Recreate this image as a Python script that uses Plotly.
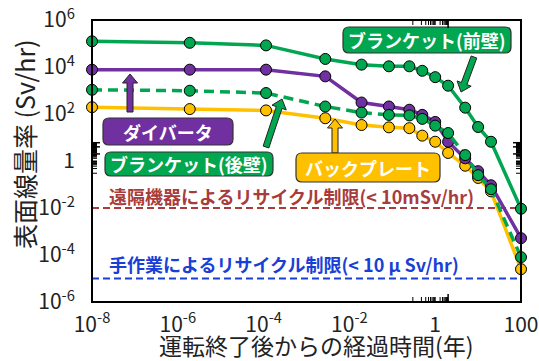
import plotly.graph_objects as go
import numpy as np

# ---- data (years after shutdown, surface dose rate Sv/hr) ----
times = [1e-8, 1.9e-6, 1.14e-4, 2.74e-3, 1.92e-2, 8.33e-2, 0.25, 0.5, 1, 2, 5, 10, 20, 100]
front_blanket = [1.24e5, 1.07e5, 8.3e4, 2.2e4, 1.26e4, 1.07e4, 1.07e4, 6.9e3, 3.7e3, 1.6e3, 186, 28, 6.6, 9.3e-3]
divertor = [7.7e3, 7.7e3, 7.7e3, 4.0e3, 308, 209, 152, 92, 46, 6.6, 1.3, 0.37, 0.093, 5.2e-4]
back_blanket = [1.07e3, 980, 780, 208, 115, 91, 87, 62, 32, 15.5, 1.78, 0.25, 0.063, 8.1e-5]
back_plate = [195, 162, 142, 66, 34, 27, 25, 12, 6.6, 2.2, 0.63, 0.19, 0.051, 2.5e-5]

remote_limit = 1e-2
hands_on_limit = 1e-5

x_tickvals = [1e-8, 1e-6, 1e-4, 1e-2, 1, 100]
x_ticktext = ["10<sup>-8</sup>", "10<sup>-6</sup>", "10<sup>-4</sup>", "10<sup>-2</sup>", "1", "100"]
y_tickvals = [1e-6, 1e-4, 1e-2, 1, 1e2, 1e4, 1e6]
y_ticktext = ["10<sup>-6</sup>", "10<sup>-4</sup>", "10<sup>-2</sup>", "1", "10<sup>2</sup>", "10<sup>4</sup>", "10<sup>6</sup>"]

x_title = "運転終了後からの経過時間(年)"
y_title = "表面線量率 (Sv/hr)"

GREEN = "#00a650"
PURPLE = "#7030a0"
YELLOW = "#ffc000"
RED = "#a83c3c"
BLUE = "#1a3fd6"
JP = "Noto Sans CJK JP"

fig = go.Figure()

# limit lines
fig.add_trace(go.Scatter(x=[1e-8, 100], y=[remote_limit]*2, mode="lines",
                         line=dict(color=RED, width=2, dash="7px,4px"), hoverinfo="skip"))
fig.add_trace(go.Scatter(x=[1e-8, 100], y=[hands_on_limit]*2, mode="lines",
                         line=dict(color=BLUE, width=2, dash="7px,4px"), hoverinfo="skip"))

def series(y, color, dash="solid"):
    fig.add_trace(go.Scatter(x=times, y=y, mode="lines+markers", cliponaxis=False,
                             line=dict(color=color, width=3.5, dash=dash),
                             marker=dict(size=11, color=color, line=dict(color="black", width=1))))

series(back_plate, YELLOW)
series(divertor, PURPLE)
series(back_blanket, GREEN, dash="10px,6px")
series(front_blanket, GREEN)

# ---- layout geometry helpers (pixel -> paper) ----
L, R, T, B = 92, 18, 20, 59
W, H = 539, 361
PW, PH = W - L - R, H - T - B

def pp(px, py):
    return (px - L) / PW, (H - B - py) / PH

def rounded_box(x0p, y0p, x1p, y1p, fill, r=6):
    ax0, ay0 = pp(x0p, y1p)
    ax1, ay1 = pp(x1p, y0p)
    rx, ry = r / PW, r / PH
    path = (f"M {ax0+rx},{ay0} L {ax1-rx},{ay0} Q {ax1},{ay0} {ax1},{ay0+ry} "
            f"L {ax1},{ay1-ry} Q {ax1},{ay1} {ax1-rx},{ay1} "
            f"L {ax0+rx},{ay1} Q {ax0},{ay1} {ax0},{ay1-ry} "
            f"L {ax0},{ay0+ry} Q {ax0},{ay0} {ax0+rx},{ay0} Z")
    fig.add_shape(type="path", path=path, xref="paper", yref="paper",
                  fillcolor=fill, line=dict(color="#333333", width=1.2), layer="above")

def box_label(text, x0p, y0p, x1p, y1p, fill):
    rounded_box(x0p, y0p, x1p, y1p, fill)
    cx, cy = pp((x0p + x1p) / 2, (y0p + y1p) / 2)
    fig.add_annotation(x=cx, y=cy, xref="paper", yref="paper", text=f"<b>{text}</b>",
                       showarrow=False, font=dict(family=JP, size=18, color="white"),
                       xanchor="center", yanchor="middle")

def block_arrow(head, tail, color, shaft=6, hw=15, hl=9):
    h = np.array(head, float)
    t = np.array(tail, float)
    d = (h - t) / np.linalg.norm(h - t)
    n = np.array([-d[1], d[0]])
    base = h - d * hl
    pts = [t + n * shaft / 2, base + n * shaft / 2, base + n * hw / 2, h,
           base - n * hw / 2, base - n * shaft / 2, t - n * shaft / 2]
    pts = [pp(*p) for p in pts]
    path = "M " + " L ".join(f"{x},{y}" for x, y in pts) + " Z"
    fig.add_shape(type="path", path=path, xref="paper", yref="paper",
                  fillcolor=color, line=dict(color="#222222", width=1), layer="above")

block_arrow((130, 74), (130, 112), PURPLE)
block_arrow((282, 99), (266, 147), GREEN)
block_arrow((335, 119), (335, 153), YELLOW)
block_arrow((461, 92), (474, 57), GREEN)

box_label("ブランケット(前壁)", 343, 27, 511, 53, GREEN)
box_label("ダイバータ", 103, 118, 233, 145, PURPLE)
box_label("ブランケット(後壁)", 105, 152, 273, 176, GREEN)
box_label("バックプレート", 296, 153, 440, 182, YELLOW)

# limit labels
x, y = pp(107, 196)
fig.add_annotation(x=x, y=y, xref="paper", yref="paper", showarrow=False,
                   text="<b>遠隔機器によるリサイクル制限(< 10mSv/hr)</b>",
                   font=dict(family=JP, size=18, color=RED), xanchor="left", yanchor="middle")
x, y = pp(107, 264)
fig.add_annotation(x=x, y=y, xref="paper", yref="paper", showarrow=False,
                   text="<b>手作業によるリサイクル制限(< 10 μ Sv/hr)</b>",
                   font=dict(family=JP, size=18, color=BLUE), xanchor="left", yanchor="middle")

# axis titles
x, y = pp(316, 345)
fig.add_annotation(x=x, y=y, xref="paper", yref="paper", showarrow=False, text=x_title,
                   font=dict(family=JP, size=23, color="#222222"), xanchor="center", yanchor="middle")
x, y = pp(24, 144)
fig.add_annotation(x=x, y=y, xref="paper", yref="paper", showarrow=False, text=y_title,
                   textangle=-90, font=dict(family=JP, size=25, color="#222222"),
                   xanchor="center", yanchor="middle")

# ---- frame and log ticks (drawn as shapes on the axis scales) ----
def minor_vals(lo, hi, labeled):
    vals = []
    for k in range(lo, hi):
        for m in range(1, 10):
            v = m * 10.0**k
            if m == 1 and any(abs(v - t) / t < 1e-9 for t in labeled):
                continue
            vals.append(v)
    return vals

x_minor = minor_vals(-8, 2, x_tickvals)
y_minor = minor_vals(-6, 6, y_tickvals)

tick_line = dict(color="black", width=1)
major_line = dict(color="black", width=1.5)
for vals, ln, style in ((x_minor, 5, tick_line), (x_tickvals, 8, major_line)):
    for v in vals:
        lv = np.log10(v)
        fig.add_shape(type="line", xref="x", yref="paper", x0=lv, x1=lv, y0=0, y1=ln / PH,
                      line=style, layer="above")
        fig.add_shape(type="line", xref="x", yref="paper", x0=lv, x1=lv, y0=1, y1=1 - ln / PH,
                      line=style, layer="above")
for vals, ln, style in ((y_minor, 5, tick_line), (y_tickvals, 8, major_line)):
    for v in vals:
        lv = np.log10(v)
        fig.add_shape(type="line", xref="paper", yref="y", y0=lv, y1=lv, x0=0, x1=ln / PW,
                      line=style, layer="above")
        fig.add_shape(type="line", xref="paper", yref="y", y0=lv, y1=lv, x0=1, x1=1 - ln / PW,
                      line=style, layer="above")
fig.add_shape(type="rect", xref="paper", yref="paper", x0=0, y0=0, x1=1, y1=1,
              line=dict(color="black", width=2), fillcolor="rgba(0,0,0,0)", layer="above")

axis_common = dict(type="log", showgrid=False, zeroline=False, showline=False,
                   ticks="outside", tickcolor="rgba(0,0,0,0)", tickmode="array", automargin=False)

fig.update_layout(
    xaxis=dict(range=[-8, 2], tickvals=x_tickvals, ticktext=x_ticktext, ticklen=4,
               tickfont=dict(family=JP, size=21, color="#222222"), **axis_common),
    yaxis=dict(range=[-6, 6], tickvals=y_tickvals, ticktext=y_ticktext, ticklen=12,
               tickfont=dict(family=JP, size=21, color="#222222"), **axis_common),
)

fig.update_layout(width=W, height=H, margin=dict(l=L, r=R, t=T, b=B, autoexpand=False),
                  plot_bgcolor="white", paper_bgcolor="white", showlegend=False)

fig.write_html("out.html")
